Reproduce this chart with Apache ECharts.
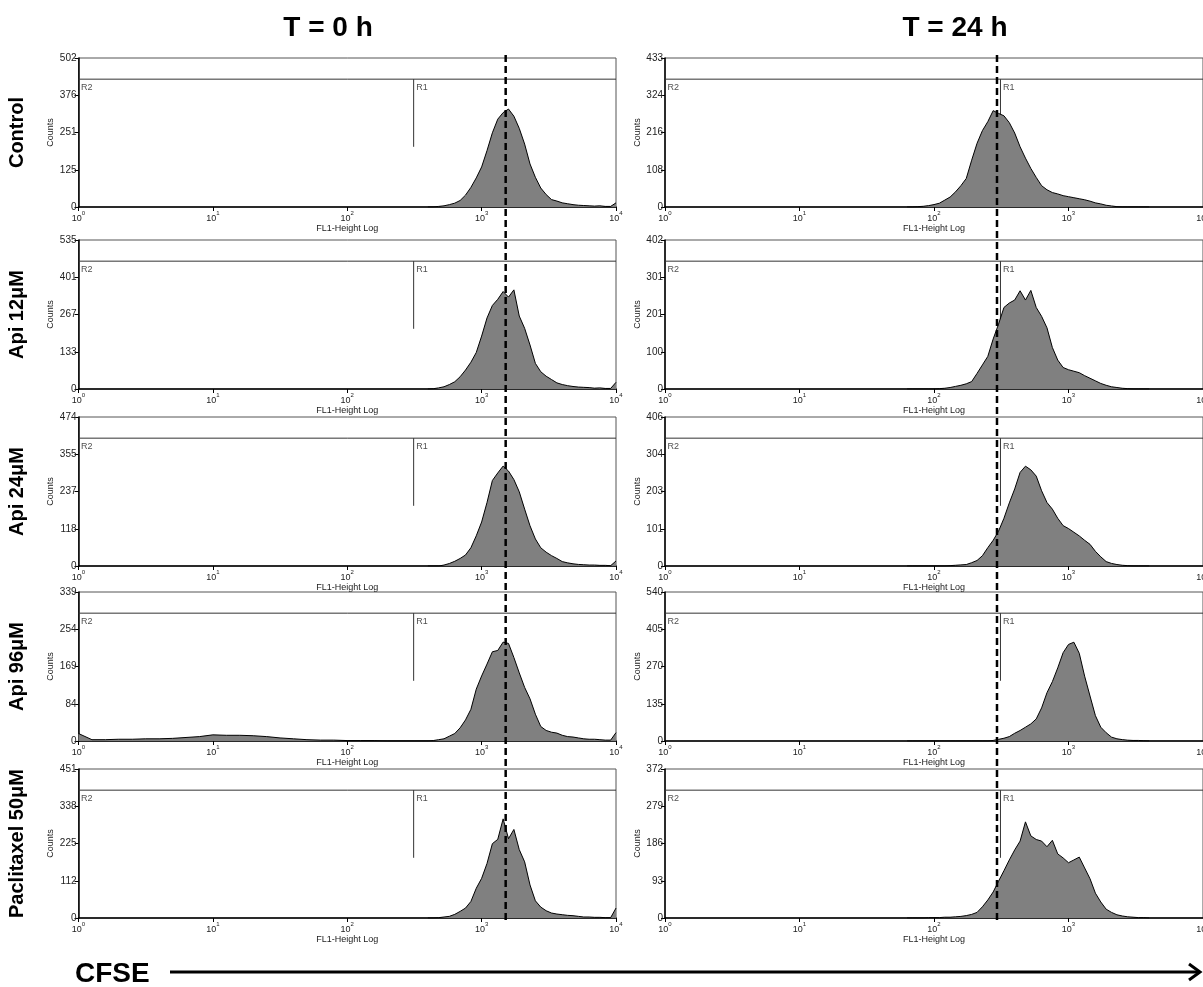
<!DOCTYPE html>
<html>
<head>
<meta charset="utf-8">
<style>
  html, body { margin: 0; padding: 0; background: #fff; }
  #main { width: 1203px; height: 987px; }
</style>
<script src="https://cdn.jsdelivr.net/npm/echarts@6/dist/echarts.min.js"></script>
</head>
<body>
<div id="main"></div>
<script>
// 行标签、列标题
const rowNames = ['Control', 'Api 12μM', 'Api 24μM', 'Api 96μM', 'Paclitaxel 50μM']
const colTitles = ['T = 0 h', 'T = 24 h']

// 每个面板 y 轴上限 (Counts)
const yMax0h = [502, 535, 474, 339, 451]
const yMax24h = [433, 402, 406, 540, 372]

// 直方图: log10(FL1) 通道, 步长 0.04
const binStep = 0.04
const start0h = 2.6   // 0h 列从 10^2.6 开始
const start24h = 1.8  // 24h 列从 10^1.8 开始

const ctrl0h = [0, 0, 2, 4, 8, 13, 22, 40, 66, 98, 135, 190, 250, 296, 318, 330, 306, 265, 212, 145, 100, 64, 42, 25, 20, 14, 11, 8, 6, 5, 4, 3, 4, 2, 2, 14]
const api12_0h = [0, 1, 4, 8, 16, 26, 44, 68, 96, 131, 190, 255, 300, 322, 350, 330, 356, 262, 218, 158, 92, 62, 46, 34, 22, 16, 12, 9, 7, 6, 5, 3, 4, 2, 2, 24]
const api24_0h = [0, 0, 0, 3, 8, 15, 24, 35, 58, 96, 140, 202, 272, 296, 318, 302, 275, 236, 181, 128, 86, 58, 44, 33, 24, 14, 10, 7, 5, 4, 3, 3, 2, 2, 1, 16]
const api96_0h = [0, 1, 3, 5, 11, 17, 30, 48, 72, 118, 148, 175, 203, 206, 225, 222, 190, 155, 122, 96, 61, 33, 24, 20, 18, 13, 10, 9, 7, 5, 4, 4, 3, 2, 2, 19]
const pac0h = [0, 0, 1, 3, 5, 11, 20, 30, 50, 90, 120, 165, 225, 238, 300, 240, 268, 207, 170, 100, 52, 33, 22, 15, 12, 10, 8, 7, 5, 3, 3, 2, 2, 1, 1, 30]

// Api 96μM 0h 低荧光碎片, 10^0 ~ 10^2.5, 步长 0.1
const debrisStep = 0.1
const debris96_0h = [17, 3, 3, 4, 4, 5, 5, 6, 8, 10, 14, 13, 13, 12, 10, 7, 5, 3, 2, 2, 1, 1, 1, 0, 0, 0]

const ctrl24h = [0, 0, 1, 2, 4, 7, 11, 20, 29, 44, 62, 83, 136, 185, 222, 248, 280, 272, 265, 245, 215, 175, 142, 112, 86, 62, 50, 42, 38, 33, 30, 27, 24, 21, 17, 12, 9, 5, 3, 1, 0, 0, 0, 0, 0, 0]
const api12_24h = [0, 0, 0, 0, 0, 0, 1, 2, 4, 7, 10, 14, 20, 42, 65, 88, 135, 175, 220, 232, 240, 265, 240, 266, 220, 196, 165, 112, 78, 58, 52, 48, 44, 36, 29, 22, 15, 10, 6, 4, 2, 1, 0, 0, 0, 0]
const api24_24h = [0, 0, 0, 0, 0, 0, 0, 0, 1, 2, 3, 4, 9, 15, 28, 50, 70, 95, 130, 172, 210, 255, 272, 262, 245, 205, 173, 155, 130, 110, 102, 92, 82, 70, 59, 40, 25, 12, 7, 4, 2, 1, 0, 0, 0, 0]
const api96_24h = [0, 0, 0, 0, 0, 0, 0, 0, 0, 0, 0, 0, 0, 0, 0, 0, 2, 6, 10, 16, 28, 38, 50, 62, 80, 120, 175, 215, 265, 320, 350, 358, 318, 235, 163, 92, 50, 30, 14, 8, 5, 3, 2, 2, 1, 0]
const pac24h = [0, 0, 0, 0, 1, 1, 1, 2, 2, 3, 4, 6, 9, 14, 28, 45, 65, 92, 118, 145, 170, 192, 240, 205, 196, 192, 178, 194, 160, 150, 138, 145, 152, 125, 98, 62, 40, 22, 14, 8, 5, 3, 2, 1, 1, 0]

// 门控: R1 起点, 虚线位置
const gateR1 = 312
const dashed0h = 1510
const dashed24h = 294

function toPoints(start, step, counts) {
  return counts.map((c, i) => [Math.pow(10, +(start + i * step).toFixed(3)), c])
}

let hist0h = [ctrl0h, api12_0h, api24_0h, api96_0h, pac0h].map(a => toPoints(start0h, binStep, a))
hist0h[3] = toPoints(0, debrisStep, debris96_0h).concat(hist0h[3])
let hist24h = [ctrl24h, api12_24h, api24_24h, api96_24h, pac24h].map(a => toPoints(start24h, binStep, a))

// 布局
const rowTops = [58, 240, 417, 592, 769]
const panelH = 149
const colLeft = [78.5, 665]
const colWidth = [537.5, 538]

let grids = [], xAxes = [], yAxes = [], series = []

for (let c = 0; c < 2; c++) {
  for (let r = 0; r < 5; r++) {
    let k = c * 5 + r
    let m = c === 0 ? yMax0h[r] : yMax24h[r]
    let data = c === 0 ? hist0h[r] : hist24h[r]
    let gate = m * 0.858

    grids.push({
      left: colLeft[c], top: rowTops[r], width: colWidth[c], height: panelH,
      outerBoundsMode: 'none', containLabel: false,
      show: true, borderColor: '#555', borderWidth: 1, backgroundColor: '#fff'
    })
    xAxes.push({
      gridIndex: k, type: 'log', logBase: 10, min: 1, max: 10000,
      axisLine: { lineStyle: { color: '#000', width: 1.5 } },
      axisTick: { length: 4, lineStyle: { color: '#000' } },
      minorTick: { show: false },
      splitLine: { show: false },
      axisLabel: {
        margin: 3, color: '#222', hideOverlap: false,
        formatter: v => '{b|10}{s|' + Math.round(Math.log10(v)) + '}',
        rich: {
          b: { fontSize: 9, fontFamily: 'Arial', lineHeight: 13, verticalAlign: 'bottom' },
          s: { fontSize: 6, fontFamily: 'Arial', lineHeight: 8, verticalAlign: 'top' }
        }
      },
      name: 'FL1-Height Log', nameLocation: 'middle', nameGap: 15,
      nameTextStyle: { fontSize: 9, fontFamily: 'Arial', color: '#222' }
    })
    yAxes.push({
      gridIndex: k, type: 'value', min: 0, max: m, interval: m / 4,
      axisLine: { show: true, lineStyle: { color: '#000', width: 1.5 } },
      axisTick: { show: true, length: 4, lineStyle: { color: '#000' } },
      splitLine: { show: false },
      axisLabel: {
        fontSize: 10, fontFamily: 'Arial', color: '#222', margin: 2,
        formatter: v => Math.floor(v + 1e-6)
      },
      name: 'Counts', nameLocation: 'middle', nameGap: 23,
      nameTextStyle: { fontSize: 9, fontFamily: 'Arial', color: '#222' }
    })

    // 直方图
    series.push({
      type: 'line', xAxisIndex: k, yAxisIndex: k, data: data,
      symbol: 'none', silent: true, z: 3,
      lineStyle: { color: '#000', width: 1 },
      areaStyle: { color: '#808080', opacity: 1 }
    })
    // R2 横线
    series.push({
      type: 'line', xAxisIndex: k, yAxisIndex: k, symbol: 'none', silent: true, z: 2,
      data: [[1, gate], [10000, gate]],
      lineStyle: { color: '#333', width: 1 }
    })
    // R1 竖线
    series.push({
      type: 'line', xAxisIndex: k, yAxisIndex: k, symbol: 'none', silent: true, z: 2,
      data: [[gateR1, gate], [gateR1, m * 0.404]],
      lineStyle: { color: '#333', width: 1 }
    })
    // R1 / R2 文字
    series.push({
      type: 'scatter', xAxisIndex: k, yAxisIndex: k, silent: true, z: 4,
      symbolSize: 1, itemStyle: { color: 'rgba(0,0,0,0)' },
      data: [{ value: [1, gate], name: 'R2' }, { value: [gateR1, gate], name: 'R1' }],
      label: {
        show: true, position: [3, 4], formatter: p => p.name,
        fontSize: 9, fontFamily: 'Arial', color: '#222'
      }
    })
  }
}

let myChart = echarts.init(document.getElementById('main'))
myChart.setOption({
  animation: false,
  backgroundColor: '#fff',
  grid: grids,
  xAxis: xAxes,
  yAxis: yAxes,
  series: series
})

// 虚线位置通过坐标轴换算
let xDash0 = myChart.convertToPixel({ xAxisIndex: 0 }, dashed0h)
let xDash1 = myChart.convertToPixel({ xAxisIndex: 5 }, dashed24h)

let graphics = []
colTitles.forEach((t, i) => {
  graphics.push({
    type: 'text', x: i === 0 ? 328 : 955, y: 28,
    style: { text: t, font: 'bold 28px Arial', fill: '#000', align: 'center', verticalAlign: 'middle', textAlign: 'center', textVerticalAlign: 'middle' }
  })
})
rowNames.forEach((t, r) => {
  graphics.push({
    type: 'text', x: 17, y: rowTops[r] + panelH / 2, rotation: Math.PI / 2,
    style: { text: t, font: 'bold 20px Arial', fill: '#000', align: 'center', verticalAlign: 'middle', textAlign: 'center', textVerticalAlign: 'middle' }
  })
})
;[xDash0, xDash1].forEach(x => {
  graphics.push({
    type: 'line', z: 100, silent: true,
    shape: { x1: x, y1: 55, x2: x, y2: 922 },
    style: { stroke: '#000', lineWidth: 2.5, lineDash: [7, 4] }
  })
})
// CFSE 箭头
graphics.push({
  type: 'text', x: 75, y: 974,
  style: { text: 'CFSE', font: 'bold 28px Arial', fill: '#000', align: 'left', verticalAlign: 'middle', textAlign: 'left', textVerticalAlign: 'middle' }
})
graphics.push({
  type: 'line', shape: { x1: 170, y1: 972, x2: 1198, y2: 972 },
  style: { stroke: '#000', lineWidth: 3 }
})
graphics.push({
  type: 'polyline', shape: { points: [[1189, 964], [1200, 972], [1189, 980]] },
  style: { stroke: '#000', lineWidth: 3, fill: null }
})

myChart.setOption({ graphic: graphics })
</script>
</body>
</html>
